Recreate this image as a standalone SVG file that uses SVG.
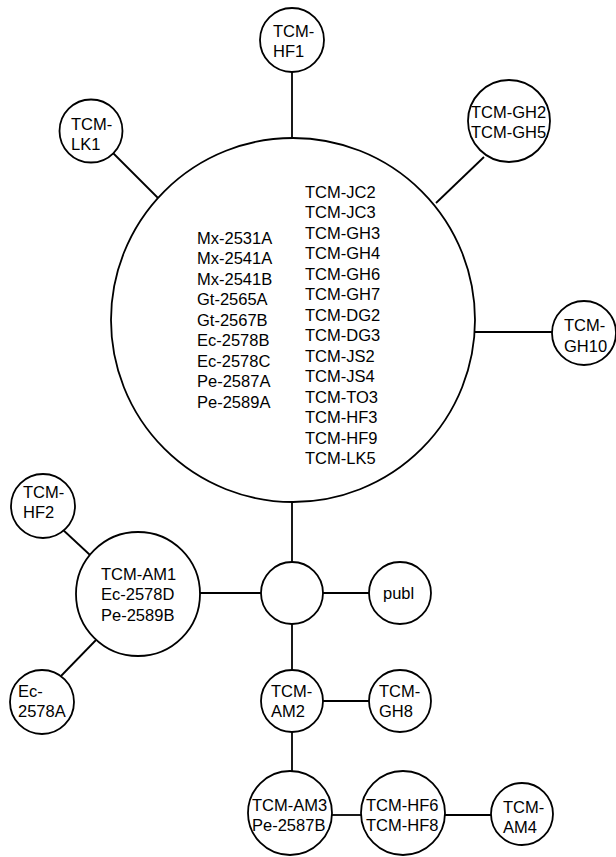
<svg xmlns="http://www.w3.org/2000/svg" width="616" height="857" viewBox="0 0 616 857">
<style>
.n{fill:#fff;stroke:#000;stroke-width:1.8}
.e{stroke:#000;stroke-width:1.8;fill:none}
text{font-family:"Liberation Sans",Arial,sans-serif;font-size:16.5px;fill:#000}
</style>
<rect width="616" height="857" fill="#fff"/>
<g id="edges">
<line class="e" x1="292" y1="72" x2="292" y2="138"/>
<line class="e" x1="113" y1="153" x2="160" y2="200"/>
<line class="e" x1="484" y1="157" x2="436" y2="203"/>
<line class="e" x1="475" y1="332" x2="552" y2="332"/>
<line class="e" x1="292" y1="502" x2="292" y2="562"/>
<line class="e" x1="61" y1="528" x2="90" y2="555"/>
<line class="e" x1="200" y1="593" x2="261" y2="593"/>
<line class="e" x1="323" y1="593" x2="369" y2="593"/>
<line class="e" x1="96" y1="640" x2="61" y2="676"/>
<line class="e" x1="292" y1="624" x2="292" y2="670"/>
<line class="e" x1="323" y1="701" x2="369" y2="701"/>
<line class="e" x1="292" y1="732" x2="292" y2="771"/>
<line class="e" x1="332" y1="815" x2="361" y2="815"/>
<line class="e" x1="445" y1="815" x2="491" y2="815"/>
</g>
<g id="main">
<circle class="n" cx="293" cy="320" r="182"/>
<text x="197" y="243.5">Mx-2531A</text>
<text x="197" y="264">Mx-2541A</text>
<text x="197" y="284.5">Mx-2541B</text>
<text x="197" y="305">Gt-2565A</text>
<text x="197" y="325.5">Gt-2567B</text>
<text x="197" y="346">Ec-2578B</text>
<text x="197" y="366.5">Ec-2578C</text>
<text x="197" y="387">Pe-2587A</text>
<text x="197" y="407.5">Pe-2589A</text>
<text x="305" y="197.5">TCM-JC2</text>
<text x="305" y="218">TCM-JC3</text>
<text x="305" y="238.5">TCM-GH3</text>
<text x="305" y="259">TCM-GH4</text>
<text x="305" y="279.5">TCM-GH6</text>
<text x="305" y="300">TCM-GH7</text>
<text x="305" y="320.5">TCM-DG2</text>
<text x="305" y="341">TCM-DG3</text>
<text x="305" y="361.5">TCM-JS2</text>
<text x="305" y="382">TCM-JS4</text>
<text x="305" y="402.5">TCM-TO3</text>
<text x="305" y="423">TCM-HF3</text>
<text x="305" y="443.5">TCM-HF9</text>
<text x="305" y="464">TCM-LK5</text>
</g>
<g id="hf1"><circle class="n" cx="292" cy="40" r="32"/><text x="273" y="36.5">TCM-</text><text x="273" y="56.5">HF1</text></g>
<g id="lk1"><circle class="n" cx="91" cy="131" r="31.5"/><text x="71" y="130">TCM-</text><text x="71" y="150">LK1</text></g>
<g id="gh2"><circle class="n" cx="509" cy="121" r="41"/><text x="471" y="118">TCM-GH2</text><text x="471" y="138">TCM-GH5</text></g>
<g id="gh10"><circle class="n" cx="584" cy="333" r="32"/><text x="564" y="331">TCM-</text><text x="564" y="352">GH10</text></g>
<g id="hf2"><circle class="n" cx="43" cy="506" r="32"/><text x="23" y="497.5">TCM-</text><text x="23" y="517.5">HF2</text></g>
<g id="am1"><circle class="n" cx="138" cy="594" r="62"/><text x="101" y="580">TCM-AM1</text><text x="101" y="600">Ec-2578D</text><text x="101" y="620.5">Pe-2589B</text></g>
<g id="hub"><circle class="n" cx="292" cy="593" r="31"/></g>
<g id="publ"><circle class="n" cx="400" cy="593" r="31"/><text x="383" y="599">publ</text></g>
<g id="ec2578a"><circle class="n" cx="42" cy="702" r="32"/><text x="18" y="697">Ec-</text><text x="18" y="717">2578A</text></g>
<g id="am2"><circle class="n" cx="292" cy="701" r="31"/><text x="271" y="697">TCM-</text><text x="271" y="717">AM2</text></g>
<g id="gh8"><circle class="n" cx="400" cy="701" r="31"/><text x="379" y="697">TCM-</text><text x="379" y="717">GH8</text></g>
<g id="am3"><circle class="n" cx="290" cy="813" r="42"/><text x="252" y="810.5">TCM-AM3</text><text x="252" y="830.5">Pe-2587B</text></g>
<g id="hf6"><circle class="n" cx="403" cy="813" r="42"/><text x="366" y="810.5">TCM-HF6</text><text x="366" y="830.5">TCM-HF8</text></g>
<g id="am4"><circle class="n" cx="522" cy="814" r="31"/><text x="503" y="813">TCM-</text><text x="503" y="833">AM4</text></g>
</svg>
